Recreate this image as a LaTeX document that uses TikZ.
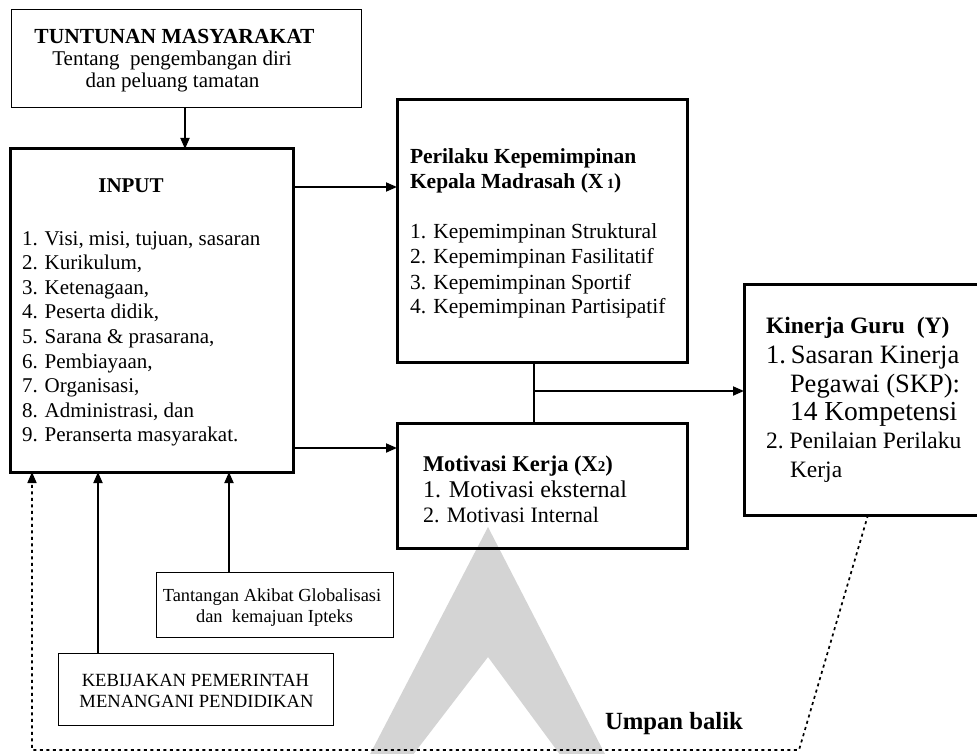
\documentclass[tikz,border=0pt]{standalone}
\usepackage{fontspec}
\setmainfont{Liberation Serif}
\usetikzlibrary{arrows.meta}
\definecolor{wm}{RGB}{212,212,212}
\newcommand\fsz[1]{\fontsize{#1}{#1}\selectfont}
\begin{document}
\begin{tikzpicture}[x=1pt,y=-1pt,
  thickbox/.style={draw, line width=3pt, inner sep=0pt, outer sep=0pt, anchor=north west},
  thinbox/.style={draw, line width=1pt, inner sep=0pt, outer sep=0pt, anchor=north west},
  txt/.style={inner sep=0pt, outer sep=0pt, anchor=base west},
  ctxt/.style={inner sep=0pt, outer sep=0pt, anchor=base},
  arr/.style={line width=1.8pt, -{Triangle[length=11pt,width=9pt]}},
  ln/.style={line width=1.8pt},
  fb/.style={line width=1.7pt, dash pattern=on 3pt off 3.5pt},
]
\useasboundingbox (0,0) rectangle (977,754);
\clip (0,0) rectangle (977,754);
% watermark
\fill[wm] (488,527) -- (367,760) -- (409,760) -- (488,657) -- (564,760) -- (608,760) -- cycle;

% boxes
\node[thinbox, minimum width=350pt, minimum height=98pt] (tt) at (11,10) {};
\node[thickbox, minimum width=283pt, minimum height=323pt] (input) at (10,149) {};
\node[thickbox, minimum width=290pt, minimum height=262pt] (x1) at (397,100) {};
\node[thickbox, minimum width=290pt, minimum height=125pt] (x2) at (397,423) {};
\node[thickbox, minimum width=260pt, minimum height=231pt] (y) at (744,284) {};
\node[thinbox, minimum width=237pt, minimum height=65pt] (tg) at (156,572) {};
\node[thinbox, minimum width=275pt, minimum height=72pt] (kb) at (58,653) {};

% texts: tuntunan
\node[ctxt, font=\bfseries\fsz{21.5}] (ttA) at (174.5,43.5) {TUNTUNAN MASYARAKAT};
\node[ctxt, font=\fsz{21}] (ttB) at (172,66) {Tentang\ \ pengembangan diri};
\node[ctxt, font=\fsz{21}] (ttC) at (172.5,87.3) {dan peluang tamatan};

% input
\node[ctxt, font=\bfseries\fsz{21}] (inT) at (131,193) {INPUT};
\node[txt, font=\fsz{21}] (in1) at (22,245) {1. Visi, misi, tujuan, sasaran};
\node[txt, font=\fsz{21}] (in2) at (22,269.6) {2. Kurikulum,};
\node[txt, font=\fsz{21}] (in3) at (22,294.2) {3. Ketenagaan,};
\node[txt, font=\fsz{21}] (in4) at (22,318.8) {4. Peserta didik,};
\node[txt, font=\fsz{21}] (in5) at (22,343.4) {5. Sarana \& prasarana,};
\node[txt, font=\fsz{21}] (in6) at (22,368) {6. Pembiayaan,};
\node[txt, font=\fsz{21}] (in7) at (22,392.6) {7. Organisasi,};
\node[txt, font=\fsz{21}] (in8) at (22,417.2) {8. Administrasi, dan};
\node[txt, font=\fsz{21}] (in9) at (22,441.8) {9. Peranserta masyarakat.};

% x1
\node[txt, font=\bfseries\fsz{21.5}] (x1A) at (410,164) {Perilaku Kepemimpinan};
\node[txt, font=\bfseries\fsz{21.5}] (x1B) at (410,189) {Kepala Madrasah (X\,{\fsz{14}1})};
\node[txt, font=\fsz{21.5}] (x1i1) at (410,238) {1. Kepemimpinan Struktural};
\node[txt, font=\fsz{21.5}] (x1i2) at (410,263) {2. Kepemimpinan Fasilitatif};
\node[txt, font=\fsz{21.5}] (x1i3) at (410,289) {3. Kepemimpinan Sportif};
\node[txt, font=\fsz{21.5}] (x1i4) at (410,313) {4. Kepemimpinan Partisipatif};

% x2
\node[txt, font=\bfseries\fsz{22.5}] (x2A) at (423,471) {Motivasi Kerja (X{\fsz{15}2})};
\node[txt, font=\fsz{24}] (x2i1) at (423,497) {1. Motivasi eksternal};
\node[txt, font=\fsz{22}] (x2i2) at (423,522) {2. Motivasi Internal};

% y
\node[txt, font=\bfseries\fsz{23.5}] (yA) at (766,333) {Kinerja Guru\ \ (Y)};
\node[txt, font=\fsz{26.5}] (yi1) at (766,363) {1.\hspace{5pt}Sasaran Kinerja};
\node[txt, font=\fsz{26.5}] (yi1b) at (790,392) {Pegawai (SKP):};
\node[txt, font=\fsz{27.5}] (yi1c) at (790,420) {14 Kompetensi};
\node[txt, font=\fsz{23.5}] (yi2) at (766,448) {2.\hspace{6pt}Penilaian Perilaku};
\node[txt, font=\fsz{23.5}] (yi2b) at (790,477) {Kerja};

% tantangan / kebijakan
\node[ctxt, font=\fsz{18.4}] (tgA) at (272,601.7) {Tantangan Akibat Globalisasi};
\node[ctxt, font=\fsz{18.4}] (tgB) at (274.5,622.7) {dan\ \ kemajuan Ipteks};
\node[ctxt, font=\fsz{18.6}] (kbA) at (195.5,686.7) {KEBIJAKAN PEMERINTAH};
\node[ctxt, font=\fsz{18.6}] (kbB) at (196.5,707.7) {MENANGANI PENDIDIKAN};

\node[txt, font=\bfseries\fsz{24.7}] (ub) at (605,729) {Umpan balik};

% connectors
\coordinate (a1) at (185,0);
\draw[arr] (tt.south -| a1) -- (input.north -| a1);
\coordinate (r1) at (0,187);
\draw[arr] (input.east |- r1) -- (x1.west |- r1);
\coordinate (r2) at (0,448);
\draw[arr] (input.east |- r2) -- (x2.west |- r2);
\coordinate (j) at (534,391);
\draw[ln] (x1.south -| j) -- (x2.north -| j);
\draw[arr] (j) -- (y.west |- j);
\coordinate (c1) at (98,0);
\draw[arr] (kb.north -| c1) -- (input.south -| c1);
\coordinate (c2) at (229,0);
\draw[arr] (tg.north -| c2) -- (input.south -| c2);
\coordinate (f1) at (868,0);
\coordinate (f2) at (799,750);
\coordinate (f3) at (32,750);
\draw[fb, -{Triangle[length=11pt,width=9pt]}] (y.south -| f1) -- (f2) -- (f3) -- (input.south -| f3);
\end{tikzpicture}
\end{document}
